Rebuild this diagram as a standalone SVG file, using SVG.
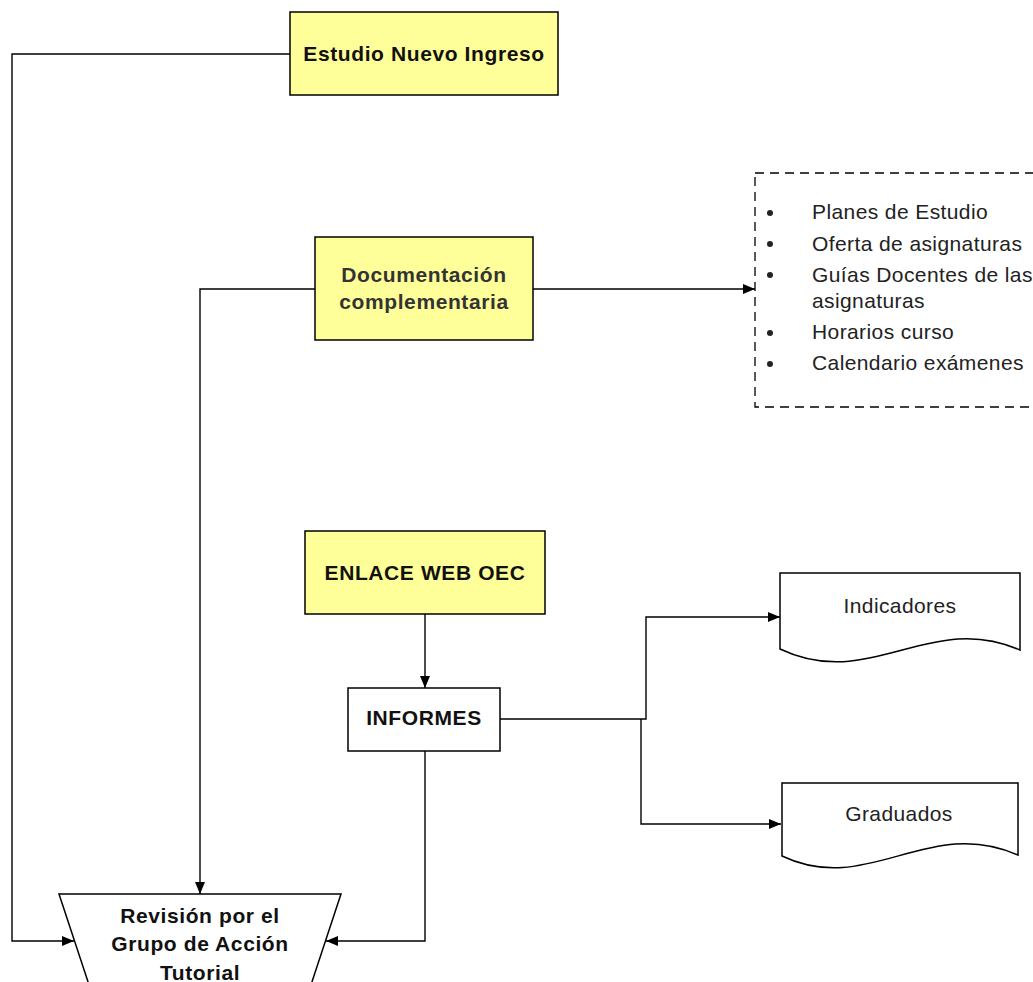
<svg xmlns="http://www.w3.org/2000/svg" width="1033" height="982" viewBox="0 0 1033 982">
<defs>
<style>
.box{fill:#FFFF99;stroke:#000;stroke-width:1.5}
.wbox{fill:#fff;stroke:#000;stroke-width:1.5}
.b{font-family:"Liberation Sans",Arial,sans-serif;font-size:21px;font-weight:bold;fill:#111;text-anchor:middle;letter-spacing:0.6px}
.r{font-family:"Liberation Sans",Arial,sans-serif;font-size:21px;fill:#222;letter-spacing:0.4px}
.rc{text-anchor:middle}
.con{fill:none;stroke:#000;stroke-width:1.4}
</style>
<marker id="ah" viewBox="0 0 12 10" refX="12" refY="5" markerWidth="12" markerHeight="10" markerUnits="userSpaceOnUse" orient="auto">
<path d="M0,0 L12,5 L0,10 Z" fill="#000"/>
</marker>
</defs>
<rect width="1033" height="982" fill="#fff"/>
<g id="connectors">
<path class="con" d="M290,54 H12 V941 H74" marker-end="url(#ah)"/>
<path class="con" d="M533,289 H755" marker-end="url(#ah)"/>
<path class="con" d="M315,289 H200 V894" marker-end="url(#ah)"/>
<path class="con" d="M425,614 V688" marker-end="url(#ah)"/>
<path class="con" d="M425,751 V941 H326" marker-end="url(#ah)"/>
<path class="con" d="M500,719 H646 V617 H780" marker-end="url(#ah)"/>
<path class="con" d="M641,719 V824 H781" marker-end="url(#ah)"/>
</g>
<g id="estudio">
<rect class="box" x="290" y="12" width="268" height="83"/>
<text class="b" x="424" y="61">Estudio Nuevo Ingreso</text>
</g>
<g id="documentacion">
<rect class="box" x="315" y="237" width="218" height="103"/>
<text class="b" x="424" y="282" fill="#333" style="fill:#333">Documentación</text>
<text class="b" x="424" y="309" style="fill:#333">complementaria</text>
</g>
<g id="lista">
<rect x="755" y="173" width="320" height="234" fill="none" stroke="#000" stroke-width="1.3" stroke-dasharray="9,6"/>
<g fill="#222">
<circle cx="770" cy="213" r="3"/>
<circle cx="770" cy="244" r="3"/>
<circle cx="770" cy="275" r="3"/>
<circle cx="770" cy="333" r="3"/>
<circle cx="770" cy="364" r="3"/>
</g>
<text class="r" x="812" y="219">Planes de Estudio</text>
<text class="r" x="812" y="251">Oferta de asignaturas</text>
<text class="r" x="812" y="282">Guías Docentes de las</text>
<text class="r" x="812" y="308">asignaturas</text>
<text class="r" x="812" y="339">Horarios curso</text>
<text class="r" x="812" y="370">Calendario exámenes</text>
</g>
<g id="enlace">
<rect class="box" x="305" y="531" width="240" height="83"/>
<text class="b" x="425" y="580">ENLACE WEB OEC</text>
</g>
<g id="informes">
<rect class="wbox" x="348" y="688" width="152" height="63"/>
<text class="b" x="424" y="725">INFORMES</text>
</g>
<g id="indicadores">
<path class="wbox" d="M780,573 H1020 V650 C930,610 870,692 780,649 Z"/>
<text class="r rc" x="900" y="613">Indicadores</text>
</g>
<g id="graduados">
<path class="wbox" d="M782,783 H1018 V855 C928,815 868,897 782,856 Z"/>
<text class="r rc" x="899" y="821">Graduados</text>
</g>
<g id="revision">
<path class="wbox" d="M59,894 H341 L302,1012 H98 Z"/>
<text class="b" x="200" y="923">Revisión por el</text>
<text class="b" x="200" y="951">Grupo de Acción</text>
<text class="b" x="200" y="980">Tutorial</text>
</g>
</svg>
